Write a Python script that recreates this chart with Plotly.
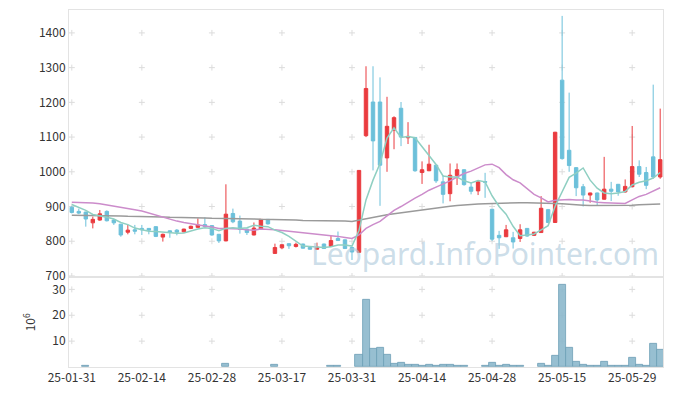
import plotly.graph_objects as go

DATES = ["25-01-31",
 "25-02-03","25-02-04","25-02-05","25-02-06","25-02-07",
 "25-02-10","25-02-11","25-02-12","25-02-13","25-02-14",
 "25-02-17","25-02-18","25-02-19","25-02-20","25-02-21",
 "25-02-24","25-02-25","25-02-26","25-02-27","25-02-28",
 "25-03-04","25-03-05","25-03-06","25-03-07",
 "25-03-10","25-03-11","25-03-12","25-03-13","25-03-14",
 "25-03-17","25-03-18","25-03-19","25-03-20","25-03-21",
 "25-03-24","25-03-25","25-03-26","25-03-27","25-03-28",
 "25-03-31",
 "25-04-01","25-04-02","25-04-03","25-04-04",
 "25-04-07","25-04-08","25-04-09","25-04-10","25-04-11",
 "25-04-14","25-04-15","25-04-16","25-04-17","25-04-18",
 "25-04-21","25-04-22","25-04-23","25-04-24","25-04-25",
 "25-04-28","25-04-29","25-04-30",
 "25-05-02",
 "25-05-07","25-05-08","25-05-09",
 "25-05-12","25-05-13","25-05-14","25-05-15","25-05-16",
 "25-05-19","25-05-20","25-05-21","25-05-22","25-05-23",
 "25-05-26","25-05-27","25-05-28","25-05-29","25-05-30",
 "25-06-02","25-06-04","25-06-05"]

OPEN = [898,886,884,853,861,886,861,849,826,833,837,837,842,812,830,832,827,837,840,848,
        845,820,801,880,858,835,818,835,863,765,781,793,785,792,782,777,792,785,808,804,
        782,768,1104,1201,1201,1040,1120,1183,1098,1099,998,1003,1019,971,937,989,1006,956,945,972,
        892,817,813,810,808,837,817,825,891,854,1264,1062,1012,957,933,939,921,950,964,942,
        957,1015,998,1043,985]
HIGH = [901,894,885,871,890,889,864,850,847,847,847,838,843,822,831,835,836,845,866,869,
        846,821,964,894,874,836,854,864,864,793,791,794,796,793,783,796,793,816,828,805,
        783,1005,1304,1304,1272,1216,1160,1201,1143,1100,1030,1078,1020,990,1024,1024,1007,970,973,997,
        893,830,847,827,849,838,827,930,893,1115,1449,1228,1013,965,940,940,1043,971,965,978,
        1132,1033,1014,1251,1182]
LOW = [880,878,842,837,859,857,847,813,820,820,818,820,812,799,810,817,826,835,839,841,
       816,795,800,852,822,818,817,834,848,764,777,778,782,779,776,776,778,784,801,778,
       746,766,1100,1004,902,1000,1065,1074,1080,1000,965,1002,968,909,915,962,960,935,933,925,
       801,778,812,779,798,813,815,824,852,853,1035,1000,930,900,911,904,920,916,931,940,
       955,985,950,980,980]
CLOSE = [883,881,864,863,879,859,853,818,832,829,833,832,814,820,825,826,835,843,847,842,
         818,801,878,856,834,825,838,863,850,782,790,787,791,780,777,783,779,802,802,779,
         769,1004,1240,1089,1019,1131,1156,1100,1102,1003,1006,1022,974,935,990,1006,963,944,971,970,
         806,810,833,798,833,815,826,895,854,1114,1038,1018,954,933,939,919,950,944,942,958,
         1015,993,961,985,1035]

MA_SHORT = [906,897,889,877,874,869,864,854,848,838,833,829,828,826,825,823,824,830,835,839,
            837,830,837,839,837,839,846,843,842,832,825,814,800,786,785,784,782,784,789,789,
            786,831,919,976,1024,1097,1127,1099,1102,1098,1073,1047,1021,988,985,985,974,968,975,971,
            931,900,878,843,816,818,821,833,845,901,945,984,996,1011,976,953,939,937,939,943,
            962,970,974,982,998]
MA_MID = [912,912,911,910,908,905,902,899,895,891,887,881,875,868,863,858,854,850,847,844,
          841,837,837,837,835,833,832,835,835,833,831,829,828,826,823,821,818,816,814,811,
          808,818,837,848,857,873,889,900,913,924,935,947,956,964,974,985,995,1002,1010,1020,
          1022,1012,992,977,968,952,935,925,913,918,920,920,919,919,916,912,911,911,910,909,
          919,929,935,944,954]
MA_LONG = [875,875,875,874,874,874,873,873,872,872,871,871,870,870,869,869,868,868,867,867,
           866,866,866,865,865,864,864,863,863,862,862,861,861,860,860,859,859,858,858,858,
           857,861,866,870,873,876,879,882,885,888,891,894,896,899,901,903,905,906,907,908,
           909,909,910,910,911,911,911,911,910,909,908,906,905,904,903,903,902,902,902,903,
           904,905,905,906,907]

VOLUME = [0,0,0.4,0,0,0,0,0,0,0,0,0,0,0,0,0,0,0,0,0,
          0,0,1.2,0,0,0,0,0,0,0.8,0,0,0,0,0,0,0,0.3,0.3,0,
          0,4.7,26.1,7.0,7.4,4.7,1.2,1.6,0.8,0.8,0.4,0.8,0.4,0.8,0.8,0.5,0.5,0,0,0.4,
          1.5,0.5,0.8,0.5,0.5,0,0,1.2,0.3,4.4,31.7,7.4,1.9,0.8,0.4,0.4,1.9,0.4,0.4,0.4,
          3.5,0.8,0.4,9.0,6.8]

PRICE_TICKS = [700, 800, 900, 1000, 1100, 1200, 1300, 1400]
VOL_TICKS = [10, 20, 30]
X_TICKS = DATES[::10]

RED = "#ea3b3f"
BLUE = "#6cc0da"
FONT = "Noto Sans CJK KR"

fig = go.Figure()

fig.add_trace(go.Candlestick(
    x=DATES, open=OPEN, high=HIGH, low=LOW, close=CLOSE,
    increasing=dict(line=dict(color=RED, width=1), fillcolor=RED),
    decreasing=dict(line=dict(color=BLUE, width=1), fillcolor=BLUE),
    whiskerwidth=0, xaxis="x", yaxis="y"))

fig.add_trace(go.Bar(x=DATES, y=VOLUME, width=1.0,
                     marker=dict(color="rgba(140,184,204,0.9)",
                                 line=dict(color="#6f9fb6", width=[0.8 if v > 0 else 0 for v in VOLUME])),
                     xaxis="x2", yaxis="y2"))

fig.add_trace(go.Scatter(x=DATES, y=MA_LONG, mode="lines", line=dict(color="#9a9a9a", width=1.5),
                         xaxis="x", yaxis="y"))
fig.add_trace(go.Scatter(x=DATES, y=MA_MID, mode="lines", line=dict(color="#cc8ccb", width=1.5),
                         xaxis="x", yaxis="y"))
fig.add_trace(go.Scatter(x=DATES, y=MA_SHORT, mode="lines", line=dict(color="#8fcfc2", width=1.5),
                         xaxis="x", yaxis="y"))

# grid crosses at tick intersections, drawn below the data
shapes = []
for xr, yr, yticks in (("x", "y", PRICE_TICKS), ("x2", "y2", VOL_TICKS)):
    for t in X_TICKS:
        for v in yticks:
            common = dict(type="line", xref=xr, yref=yr, xsizemode="pixel", ysizemode="pixel",
                          xanchor=t, yanchor=v, layer="below",
                          line=dict(color="#dcdcdc", width=1))
            shapes.append(dict(x0=-3, x1=3, y0=0, y1=0, **common))
            shapes.append(dict(x0=0, x1=0, y0=-3, y1=3, **common))

axis_common = dict(showgrid=False, zeroline=False, showline=True, mirror=True,
                   linecolor="#e3e3e3", linewidth=1, automargin=False)

fig.update_layout(
    width=673, height=396,
    margin=dict(l=69, r=10, t=10, b=29),
    paper_bgcolor="white", plot_bgcolor="white",
    showlegend=False,
    font=dict(family=FONT, size=12, color="#333"),
    xaxis=dict(type="category", categoryorder="array", categoryarray=DATES,
               range=[-0.4, 84.4], showticklabels=False, ticks="",
               rangeslider=dict(visible=False), anchor="y", **axis_common),
    yaxis=dict(domain=[0.255, 1], range=[700, 1466], tickvals=PRICE_TICKS, ticks="",
               tickfont=dict(size=12, color="#333"), **axis_common),
    xaxis2=dict(type="category", categoryorder="array", categoryarray=DATES,
                range=[-0.4, 84.4], matches="x", anchor="y2",
                tickvals=X_TICKS, ticktext=X_TICKS, ticks="", tickangle=0,
                tickfont=dict(size=12, color="#333"), **axis_common),
    yaxis2=dict(domain=[0, 0.25], range=[0, 34.5], tickvals=VOL_TICKS, ticks="",
                title=dict(text="10<sup>6</sup>", font=dict(size=12, color="#333"), standoff=14),
                tickfont=dict(size=12, color="#333"), **axis_common),
    bargap=0,
    shapes=shapes,
    annotations=[dict(text="Leopard.InfoPointer.com", xref="paper", yref="paper",
                      x=0.70, y=0.319, xanchor="center", yanchor="middle", showarrow=False,
                      font=dict(family="Noto Sans", size=30, color="rgba(175,203,220,0.65)"))],
)

fig.write_html("out.html", config={"displayModeBar": False},
               post_script="document.body.style.margin='0';")
